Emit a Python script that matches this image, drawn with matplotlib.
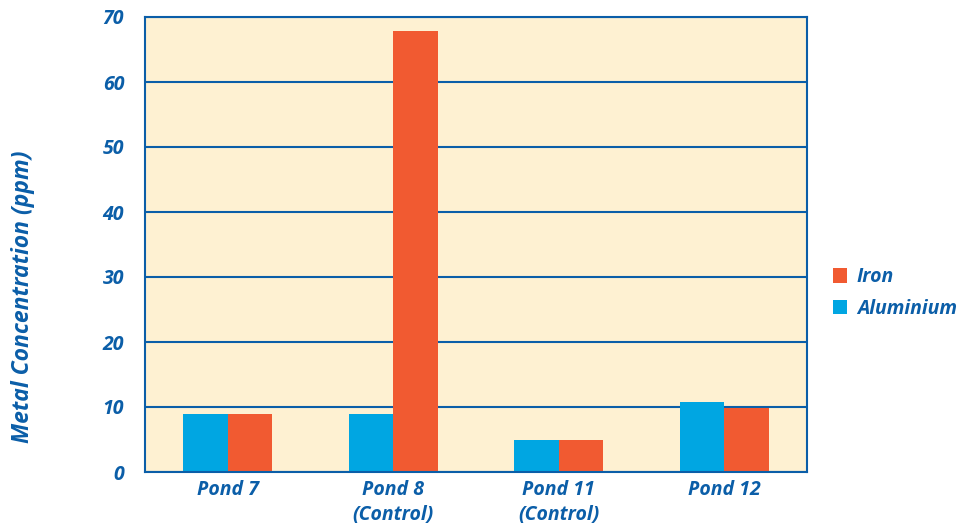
import matplotlib
matplotlib.use("Agg")
import matplotlib.pyplot as plt
import numpy as np

ponds = ["Pond 7", "Pond 8\n(Control)", "Pond 11\n(Control)", "Pond 12"]
aluminium = [9.0, 9.0, 4.9, 10.8]
iron = [9.0, 67.9, 4.9, 9.8]
y_ticks = [0, 10, 20, 30, 40, 50, 60, 70]

blue_txt = "#0B5EA8"
al_color = "#00A6E2"
fe_color = "#F15A31"
bg = "#FEF1D2"

plt.rcParams['font.family'] = ['Open Sans', 'DejaVu Sans']
font = dict(weight='bold', style='italic', color=blue_txt)

fig = plt.figure(figsize=(9.68, 5.30), dpi=100)
ax = fig.add_axes([145 / 968, 1 - 472 / 530, 662 / 968, 455 / 530])
ax.set_facecolor(bg)

x = np.arange(len(ponds))
w = 0.27
ax.bar(x - w / 2, aluminium, w, color=al_color, label="Aluminium", zorder=3)
ax.bar(x + w / 2, iron, w, color=fe_color, label="Iron", zorder=3)

ax.set_xlim(-0.5, len(ponds) - 0.5)
ax.set_ylim(0, 70)
ax.set_yticks(y_ticks)
ax.set_yticklabels([str(t) for t in y_ticks], fontsize=14, **font)
ax.set_xticks(x)
ax.set_xticklabels(ponds, fontsize=14, linespacing=1.3, **font)
ax.tick_params(axis='y', length=0, pad=15)
ax.tick_params(axis='x', length=0, pad=6)

ax.grid(axis='y', color=blue_txt, linewidth=1.5, zorder=1)
for s in ax.spines.values():
    s.set_color(blue_txt)
    s.set_linewidth(1.5)
    s.set_zorder(4)

fig.text(23 / 968, 1 - 297 / 530, "Metal Concentration (ppm)", rotation=90,
         ha='center', va='center', fontsize=16.5, **font)

h, l = ax.get_legend_handles_labels()
leg = fig.legend(h[::-1], l[::-1], loc='center left',
                 bbox_to_anchor=(815 / 968, 1 - 293 / 530), frameon=False,
                 handlelength=0.75, handleheight=0.75, handletextpad=0.5,
                 labelspacing=0.6, prop=dict(family=['Open Sans', 'DejaVu Sans'],
                                             weight='bold', style='italic', size=14))
for t in leg.get_texts():
    t.set_color(blue_txt)

fig.savefig("out.png", dpi=100)
